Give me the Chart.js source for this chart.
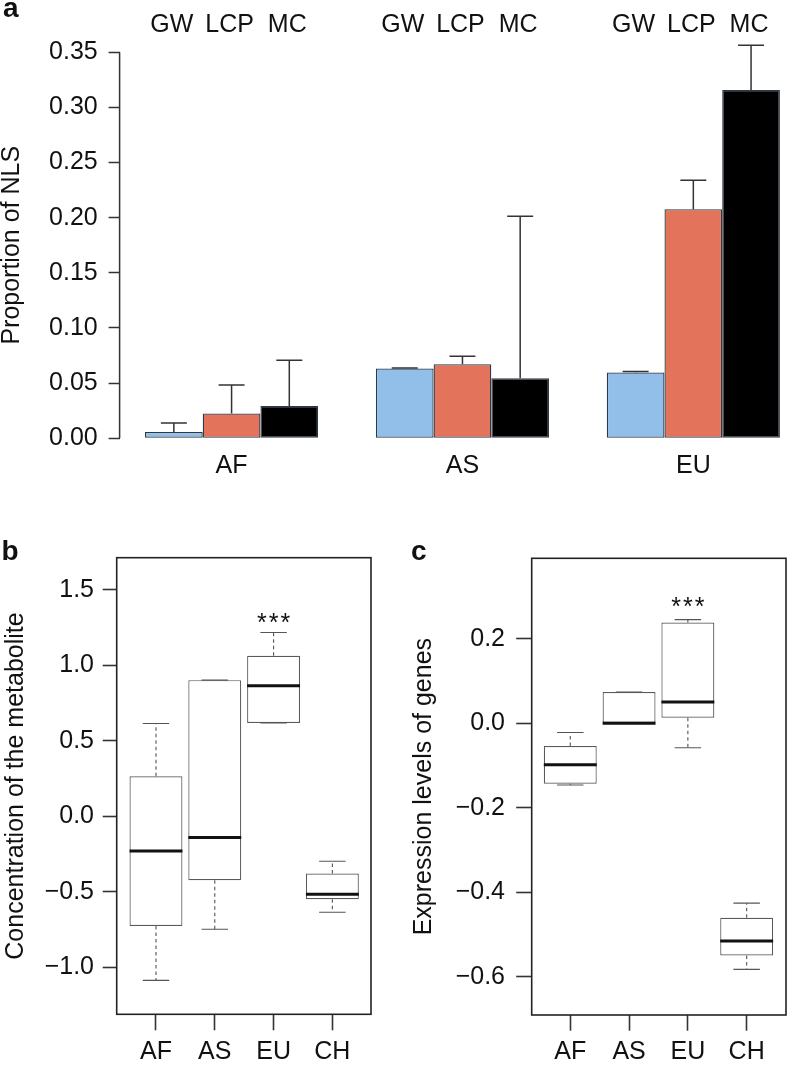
<!DOCTYPE html>
<html>
<head>
<meta charset="utf-8">
<script src="https://cdn.jsdelivr.net/npm/chart.js@4.4.1/dist/chart.umd.min.js"></script>
<style>
  html, body { margin: 0; padding: 0; background: #fff; overflow: hidden; }
  #wrap { position: relative; width: 788px; height: 1067px; }
  canvas { position: absolute; }
</style>
</head>
<body>
<div id="wrap">
  <canvas id="ca" width="788" height="500" style="left:0;top:0;width:788px;height:500px"></canvas>
  <canvas id="cb" width="394" height="547" style="left:0;top:520px;width:394px;height:547px"></canvas>
  <canvas id="cc" width="394" height="547" style="left:394px;top:520px;width:394px;height:547px"></canvas>
</div>
<script>
// ---------- Panel a data ----------
const catsA = ['AF', 'AS', 'EU'];
const seriesA = ['GW', 'LCP', 'MC'];
const gwA  = [0.0057, 0.0632, 0.0596];
const lcpA = [0.0224, 0.0671, 0.2076];
const mcA  = [0.0293, 0.0544, 0.3158];
const gwErrHi  = [0.0139, 0.0638, 0.0605];
const lcpErrHi = [0.0483, 0.0744, 0.2339];
const mcErrHi  = [0.0707, 0.2013, 0.3563];
const yTicksA = [0, 0.05, 0.10, 0.15, 0.20, 0.25, 0.30, 0.35];

// ---------- Panel b data (metabolite) ----------
const catsBC = ['AF', 'AS', 'EU', 'CH'];
const metLow  = [-1.087, -0.749, 0.618, -0.636];
const metQ1   = [-0.727, -0.424, 0.618, -0.550];
const metMed  = [-0.230, -0.141, 0.864, -0.517];
const metQ3   = [0.265, 0.901, 1.062, -0.380];
const metHigh = [0.614, 0.901, 1.217, -0.298];
const yTicksB = [-1.0, -0.5, 0.0, 0.5, 1.0, 1.5];
const sigB = { cat: 2, y: 1.225, text: '***' };

// ---------- Panel c data (gene expression) ----------
const genLow  = [-0.146, 0.000, -0.058, -0.582];
const genQ1   = [-0.143, 0.000, 0.013, -0.549];
const genMed  = [-0.098, 0.000, 0.050, -0.515];
const genQ3   = [-0.054, 0.074, 0.238, -0.460];
const genHigh = [-0.022, 0.074, 0.245, -0.4255];
const yTicksC = [-0.6, -0.4, -0.2, 0.0, 0.2];
const sigC = { cat: 2, y: 0.257, text: '***' };

// ---------- styles ----------
const FONT = '"Liberation Sans", Arial, Helvetica, sans-serif';
Chart.defaults.font.family = FONT;
Chart.defaults.color = '#111';
const colA = ['#92BEEA', '#E3735A', '#000000'];
const fmtMinus = (v, d) => (v < 0 ? '\u2212' : '') + Math.abs(v).toFixed(d);

// ---------- Panel a ----------
const errA = [gwErrHi, lcpErrHi, mcErrHi];
const valsA = [gwA, lcpA, mcA];

const pluginA = {
  id: 'pA',
  afterDatasetsDraw(chart) {
    const ctx = chart.ctx, ys = chart.scales.y, ca = chart.chartArea;
    ctx.save();
    // axis line from first to last tick
    ctx.strokeStyle = '#333'; ctx.lineWidth = 1.5;
    ctx.beginPath();
    ctx.moveTo(ca.left, ys.getPixelForValue(yTicksA[0]));
    ctx.lineTo(ca.left, ys.getPixelForValue(yTicksA[yTicksA.length - 1]));
    ctx.stroke();
    // error bars
    chart.data.datasets.forEach((ds, di) => {
      const meta = chart.getDatasetMeta(di);
      meta.data.forEach((bar, i) => {
        const top = ys.getPixelForValue(errA[di][i]);
        const w = bar.width * 0.45;
        ctx.strokeStyle = '#333'; ctx.lineWidth = 1.5;
        ctx.beginPath();
        ctx.moveTo(bar.x, bar.y); ctx.lineTo(bar.x, top);
        ctx.moveTo(bar.x - w / 2, top); ctx.lineTo(bar.x + w / 2, top);
        ctx.stroke();
        // series label above
        ctx.fillStyle = '#111';
        ctx.font = '25px ' + FONT;
        ctx.textAlign = 'center'; ctx.textBaseline = 'alphabetic';
        ctx.fillText(seriesA[di], bar.x - 2, ca.top - 5);
      });
    });
    ctx.font = 'bold 28px ' + FONT;
    ctx.textAlign = 'left'; ctx.textBaseline = 'alphabetic';
    ctx.fillText('a', 3, 17);
    ctx.restore();
  }
};

new Chart(document.getElementById('ca'), {
  type: 'bar',
  data: {
    datasets: seriesA.map((s, di) => ({
      label: s,
      data: valsA[di].map((v, i) => ({ x: i, y: v })),
      backgroundColor: colA[di]
    }))
  },
  options: {
    responsive: false, animation: false,
    layout: { padding: { top: 36.8, left: 0, right: 0, bottom: 0 } },
    datasets: { bar: { categoryPercentage: 0.75, barPercentage: 1, borderWidth: 1.3, borderColor: '#2c3a48', borderSkipped: false } },
    plugins: { legend: { display: false }, tooltip: { enabled: false } },
    scales: {
      x: {
        type: 'linear', min: -0.485, max: 2.41, offset: false,
        afterBuildTicks: s => { s.ticks = catsA.map((_, i) => ({ value: i })); },
        ticks: { callback: v => catsA[v], font: { size: 25, lineHeight: 1 }, color: '#111', padding: 0, autoSkip: false, maxRotation: 0 },
        grid: { display: false, drawTicks: false, offset: false },
        border: { display: false },
        afterFit: s => { s.height = 46.3; }
      },
      y: {
        min: -0.014, max: 0.364,
        afterBuildTicks: s => { s.ticks = yTicksA.map(v => ({ value: v })); },
        ticks: { callback: v => v.toFixed(2), font: { size: 25, lineHeight: 1 }, color: '#111', padding: 10.9 },
        grid: { drawOnChartArea: false, tickLength: 11, tickColor: '#333', tickWidth: 1.5 },
        border: { display: false },
        title: { display: true, text: 'Proportion of NLS', font: { size: 25, lineHeight: 1 }, color: '#111', padding: { top: 0, bottom: 0 } },
        afterFit: s => { s.width = 119.6; }
      }
    }
  },
  plugins: [pluginA]
});

// ---------- Panels b & c ----------
function boxPlugin(id, st, sig, letter, letterX) {
  return {
    id,
    afterDatasetsDraw(chart) {
      const ctx = chart.ctx, xs = chart.scales.x, ys = chart.scales.y, ca = chart.chartArea;
      const bars = chart.getDatasetMeta(0).data;
      ctx.save();
      bars.forEach((bar, i) => {
        const cx = xs.getPixelForValue(i);
        const hw = bar.width / 2;
        const pLow = ys.getPixelForValue(st.low[i]);
        const pQ1 = ys.getPixelForValue(st.q1[i]);
        const pQ3 = ys.getPixelForValue(st.q3[i]);
        const pHigh = ys.getPixelForValue(st.high[i]);
        const pMed = ys.getPixelForValue(st.med[i]);
        // whiskers (dashed)
        ctx.strokeStyle = '#555'; ctx.lineWidth = 1.1;
        ctx.setLineDash([3.5, 3]);
        ctx.beginPath();
        ctx.moveTo(cx, pQ3); ctx.lineTo(cx, pHigh);
        ctx.moveTo(cx, pQ1); ctx.lineTo(cx, pLow);
        ctx.stroke();
        ctx.setLineDash([]);
        // staples
        ctx.beginPath();
        ctx.moveTo(cx - hw / 2, pHigh); ctx.lineTo(cx + hw / 2, pHigh);
        ctx.moveTo(cx - hw / 2, pLow); ctx.lineTo(cx + hw / 2, pLow);
        ctx.stroke();
        // median
        ctx.strokeStyle = '#111'; ctx.lineWidth = 3;
        ctx.beginPath();
        ctx.moveTo(cx - hw, pMed); ctx.lineTo(cx + hw, pMed);
        ctx.stroke();
      });
      // frame
      ctx.strokeStyle = '#222'; ctx.lineWidth = 1.6;
      ctx.strokeRect(ca.left, ca.top, ca.right - ca.left, ca.bottom - ca.top);
      // significance
      ctx.fillStyle = '#111';
      ctx.font = '25px ' + FONT;
      ctx.letterSpacing = '2px';
      ctx.textAlign = 'center'; ctx.textBaseline = 'alphabetic';
      ctx.fillText(sig.text, xs.getPixelForValue(sig.cat) + 1, ys.getPixelForValue(sig.y));
      ctx.letterSpacing = '0px';
      // panel letter
      ctx.font = 'bold 28px ' + FONT;
      ctx.textAlign = 'left';
      ctx.fillText(letter, letterX, 40);
      ctx.restore();
    }
  };
}

function boxChart(id, st, o) {
  new Chart(document.getElementById(id), {
    type: 'bar',
    data: {
      datasets: [{
        data: catsBC.map((c, i) => ({ x: i, y: [st.q1[i], st.q3[i]] })),
        backgroundColor: '#ffffff', borderColor: '#5a5a5a', borderWidth: 1.2, borderSkipped: false,
        categoryPercentage: 0.9, barPercentage: 1
      }]
    },
    options: {
      responsive: false, animation: false,
      layout: { padding: { top: o.top, left: 0, right: o.right, bottom: 0 } },
      plugins: { legend: { display: false }, tooltip: { enabled: false } },
      scales: {
        x: {
          type: 'linear', min: o.xmin, max: o.xmax, offset: false,
          afterBuildTicks: s => { s.ticks = catsBC.map((_, i) => ({ value: i })); },
          ticks: { callback: v => catsBC[v], font: { size: 25, lineHeight: 1 }, color: '#111', padding: o.xpad, autoSkip: false, maxRotation: 0 },
          grid: { drawOnChartArea: false, tickLength: o.xtl, tickColor: '#333', tickWidth: 1.6, offset: false },
          border: { display: false },
          afterFit: s => { s.height = o.xh; }
        },
        y: {
          min: o.ymin, max: o.ymax,
          afterBuildTicks: s => { s.ticks = o.yticks.map(v => ({ value: v })); },
          ticks: { callback: v => fmtMinus(v, 1), font: { size: 25, lineHeight: 1 }, color: '#111', padding: o.ypad },
          grid: { drawOnChartArea: false, tickLength: o.ytl, tickColor: '#333', tickWidth: 1.6 },
          border: { display: false },
          title: { display: true, text: o.title, font: { size: 25, lineHeight: 1 }, color: '#111', padding: { top: o.tpad, bottom: 0 } },
          afterFit: s => { s.width = o.yw; }
        }
      }
    },
    plugins: [boxPlugin(id + 'p', st, o.sig, o.letter, o.letterX)]
  });
}

boxChart('cb', { low: metLow, q1: metQ1, med: metMed, q3: metQ3, high: metHigh }, {
  top: 37.7, right: 23, xmin: -0.668, xmax: 3.657, ymin: -1.312, ymax: 1.712,
  xh: 52.7, yw: 116.7, xtl: 16, xpad: 9.5, ytl: 14, ypad: 8.7, yticks: yTicksB,
  title: 'Concentration of the metabolite', tpad: 3.3, sig: sigB, letter: 'b', letterX: 1.6
});
boxChart('cc', { low: genLow, q1: genQ1, med: genMed, q3: genQ3, high: genHigh }, {
  top: 38.3, right: 2, xmin: -0.656, xmax: 3.669, ymin: -0.69, ymax: 0.39,
  xh: 52, yw: 137.7, xtl: 15.7, xpad: 8.8, ytl: 15.5, ypad: 11.2, yticks: yTicksC,
  title: 'Expression levels of genes', tpad: 17.5, sig: sigC, letter: 'c', letterX: 17
});
</script>
</body>
</html>
